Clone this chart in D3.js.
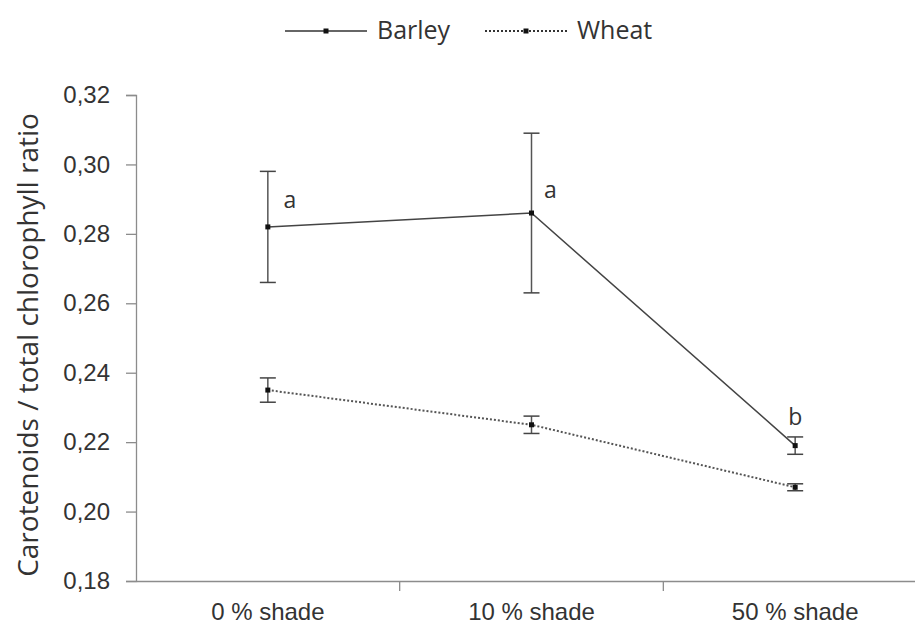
<!DOCTYPE html>
<html>
<head>
<meta charset="utf-8">
<script src="https://cdn.jsdelivr.net/npm/d3@7"></script>
<style>
  body { margin: 0; background: #fff; }
  svg { font-family: "Open Sans", "Liberation Sans", sans-serif; }
</style>
</head>
<body>
<div id="container"></div>
<script>
const width = 915, height = 628;

// data
const categories = ["0 % shade", "10 % shade", "50 % shade"];
const barley = [0.282, 0.286, 0.219];
const barleyErr = [0.016, 0.023, 0.0025];
const wheat = [0.235, 0.225, 0.207];
const wheatErr = [0.0035, 0.0025, 0.001];
const letters = ["a", "a", "b"];
const yTicks = [0.18, 0.20, 0.22, 0.24, 0.26, 0.28, 0.30, 0.32];

const svg = d3.select("#container").append("svg")
    .attr("width", width)
    .attr("height", height);

const x = d3.scaleBand().domain(categories).range([136, 927]);
const y = d3.scaleLinear().domain([0.18, 0.32]).range([581, 95]);
const cx = d => x(d) + x.bandwidth() / 2;

// y axis
const yAxis = svg.append("g")
    .attr("transform", "translate(136,0)")
    .call(d3.axisLeft(y).tickValues(yTicks).tickSize(10).tickPadding(16)
        .tickFormat(d => d3.format(".2f")(d).replace(".", ",")));
yAxis.select(".domain").attr("stroke", "#8c8c8c").attr("stroke-width", 1.3);
yAxis.selectAll(".tick line").attr("stroke", "#8c8c8c").attr("stroke-width", 1.3);
yAxis.selectAll(".tick text").attr("font-size", 24).attr("fill", "#333");

// x axis
const xAxis = svg.append("g")
    .attr("transform", "translate(0,581)")
    .call(d3.axisBottom(x).tickSize(0).tickPadding(22));
xAxis.select(".domain").attr("stroke", "#8c8c8c").attr("stroke-width", 1.3);
xAxis.selectAll(".tick text").attr("font-size", 24).attr("fill", "#333");
// boundary ticks between categories
svg.append("g").selectAll("line")
    .data(categories.slice(1))
    .join("line")
    .attr("x1", d => x(d)).attr("x2", d => x(d))
    .attr("y1", 581).attr("y2", 591)
    .attr("stroke", "#8c8c8c").attr("stroke-width", 1.3);

// y title
svg.append("text")
    .attr("transform", "translate(38,345) rotate(-90)")
    .attr("text-anchor", "middle")
    .attr("font-size", 28)
    .attr("fill", "#333")
    .text("Carotenoids / total chlorophyll ratio");

function drawSeries(vals, errs, dash) {
    const g = svg.append("g");
    const line = d3.line().x((d, i) => cx(categories[i])).y(d => y(d));
    // error bars
    vals.forEach((v, i) => {
        const px = cx(categories[i]);
        g.append("line")
            .attr("x1", px).attr("x2", px)
            .attr("y1", y(v + errs[i])).attr("y2", y(v - errs[i]))
            .attr("stroke", "#555").attr("stroke-width", 1.5);
        [v + errs[i], v - errs[i]].forEach(e => {
            g.append("line")
                .attr("x1", px - 8).attr("x2", px + 8)
                .attr("y1", y(e)).attr("y2", y(e))
                .attr("stroke", "#444").attr("stroke-width", 1.5);
        });
    });
    g.append("path")
        .datum(vals)
        .attr("d", line)
        .attr("fill", "none")
        .attr("stroke", dash ? "#555" : "#444")
        .attr("stroke-width", dash ? 2 : 1.5)
        .attr("stroke-dasharray", dash ? "2,2" : null);
    g.selectAll("rect")
        .data(vals)
        .join("rect")
        .attr("x", (d, i) => cx(categories[i]) - 2.5)
        .attr("y", d => y(d) - 2.5)
        .attr("width", 5).attr("height", 5)
        .attr("fill", "#111");
}

drawSeries(barley, barleyErr, false);
drawSeries(wheat, wheatErr, true);

// significance letters
const letterPos = [[22, 26], [19, 22], [0, 28]];
svg.append("g").selectAll("text")
    .data(letters)
    .join("text")
    .attr("x", (d, i) => cx(categories[i]) + letterPos[i][0])
    .attr("y", (d, i) => y(barley[i]) - letterPos[i][1] + 7)
    .attr("text-anchor", "middle")
    .attr("font-size", 23)
    .attr("fill", "#333")
    .text(d => d);

// legend
const legend = [
    { name: "Barley", x: 285, dash: null },
    { name: "Wheat", x: 485, dash: "2,2" }
];
legend.forEach(l => {
    svg.append("line")
        .attr("x1", l.x).attr("x2", l.x + 82)
        .attr("y1", 31).attr("y2", 31)
        .attr("stroke", "#333")
        .attr("stroke-width", l.dash ? 2 : 1.5)
        .attr("stroke-dasharray", l.dash);
    svg.append("rect")
        .attr("x", l.x + 38.5).attr("y", 28.5)
        .attr("width", 5).attr("height", 5)
        .attr("fill", "#111");
    svg.append("text")
        .attr("x", l.x + 92).attr("y", 39)
        .attr("font-size", 25)
        .attr("fill", "#333")
        .text(l.name);
});
</script>
</body>
</html>
